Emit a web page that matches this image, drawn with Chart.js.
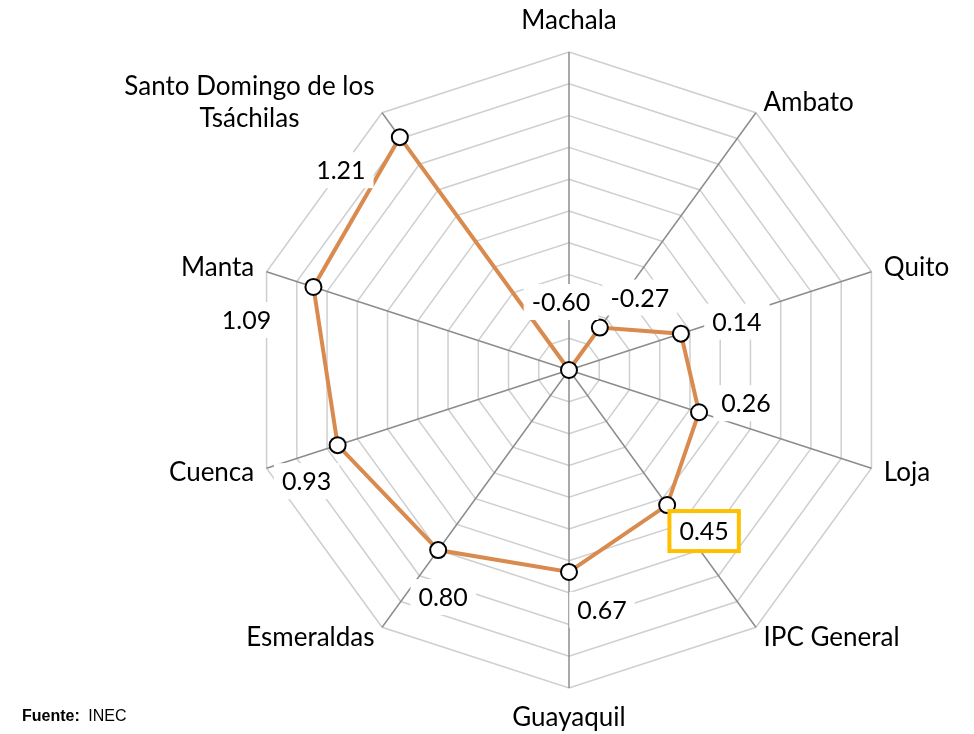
<!DOCTYPE html>
<html>
<head>
<meta charset="utf-8">
<script src="https://cdn.jsdelivr.net/npm/chart.js@4.4.1/dist/chart.umd.min.js"></script>
<style>
  body { margin: 0; background: #fff; }
  #wrap { position: relative; width: 974px; height: 734px; }
  #fuente { position: absolute; left: 22px; top: 707px; font-family: 'Liberation Sans Narrow', 'Liberation Sans', Arial, sans-serif; font-size: 16px; color: #000; }
  #fuente b { margin-right: 4px; }
</style>
</head>
<body>
<div id="wrap">
  <canvas id="radar" width="974" height="734"></canvas>
  <div id="fuente"><b>Fuente:</b> INEC</div>
</div>
<script>
const cities = ['Machala', 'Ambato', 'Quito', 'Loja', 'IPC General', 'Guayaquil',
  'Esmeraldas', 'Cuenca', 'Manta', ['Santo Domingo de los', 'Tsáchilas']];
const values = [-0.60, -0.27, 0.14, 0.26, 0.45, 0.67, 0.80, 0.93, 1.09, 1.21];
const scaleMin = -0.6;
const scaleMax = 1.4;
const scaleStep = 0.2;

// where each value label sits relative to its point (px)
const labelDx = [-8, 40, 56, 47, 37, 33, 5, -31, -67, -59];
const labelDy = [-68, -30, -12, -9, 26, 38, 47, 36, 33, 33];
const highlightIndex = 4; // IPC General

const FONT = "Lato, 'Open Sans', sans-serif";

const labelsPlugin = {
  id: 'radarLabels',
  afterDatasetsDraw(chart) {
    const ctx = chart.ctx;
    const scale = chart.scales.r;
    const meta = chart.getDatasetMeta(0);
    const R = scale.drawingArea;

    ctx.save();
    ctx.font = '26px ' + FONT;
    ctx.fillStyle = '#000';

    // axis names
    cities.forEach((name, i) => {
      const p = scale.getPointPosition(i, R + 13);
      const ang = i * 360 / cities.length;
      const s = Math.sin(ang * Math.PI / 180);
      const c = Math.cos(ang * Math.PI / 180);
      let x = p.x, y = p.y;
      if (Math.abs(s) < 0.01) {
        ctx.textAlign = 'center';
        y += c > 0 ? -18 : 17;
      } else {
        ctx.textAlign = s > 0 ? 'left' : 'right';
      }
      ctx.textBaseline = 'middle';
      const lines = Array.isArray(name) ? name : [name];
      if (lines.length > 1) {
        const w = Math.max(...lines.map(l => ctx.measureText(l).width));
        const cx = x - w / 2;
        ctx.textAlign = 'center';
        lines.forEach((l, k) => {
          ctx.fillText(l, cx, y + (k - (lines.length - 1) / 2) * 32);
        });
      } else {
        ctx.fillText(lines[0], x, y);
      }
    });

    // value labels
    ctx.font = '25px ' + FONT;
    meta.data.forEach((pt, i) => {
      const txt = values[i].toFixed(2);
      const x = pt.x + labelDx[i];
      const y = pt.y + labelDy[i];
      const w = ctx.measureText(txt).width + 16;
      const h = 36;
      ctx.fillStyle = '#fff';
      ctx.fillRect(x - w / 2, y - h / 2, w, h);
      if (i === highlightIndex) {
        ctx.strokeStyle = '#FFC000';
        ctx.lineWidth = 4;
        ctx.strokeRect(x - w / 2 - 2, y - h / 2 - 2, w + 4, h + 4);
      }
      ctx.fillStyle = '#000';
      ctx.textAlign = 'center';
      ctx.textBaseline = 'middle';
      ctx.fillText(txt, x, y + 1);
    });
    ctx.restore();
  }
};

new Chart(document.getElementById('radar'), {
  type: 'radar',
  data: {
    labels: cities,
    datasets: [{
      data: values,
      borderColor: '#D98B4F',
      borderWidth: 4,
      backgroundColor: 'rgba(0,0,0,0)',
      fill: false,
      tension: 0,
      pointRadius: 8,
      pointHoverRadius: 8,
      pointBackgroundColor: '#fff',
      pointBorderColor: '#000',
      pointBorderWidth: 2
    }]
  },
  options: {
    responsive: false,
    devicePixelRatio: 1,
    animation: false,
    layout: { padding: { left: 251, right: 87, top: 52, bottom: 46 } },
    plugins: {
      legend: { display: false },
      tooltip: { enabled: false }
    },
    scales: {
      r: {
        min: scaleMin,
        max: scaleMax,
        startAngle: 0,
        ticks: { stepSize: scaleStep, display: false },
        grid: { color: '#CFCFCF', lineWidth: 1.5 },
        angleLines: { color: '#8C8C8C', lineWidth: 1.5 },
        pointLabels: { display: false }
      }
    }
  },
  plugins: [labelsPlugin]
});
</script>
</body>
</html>
